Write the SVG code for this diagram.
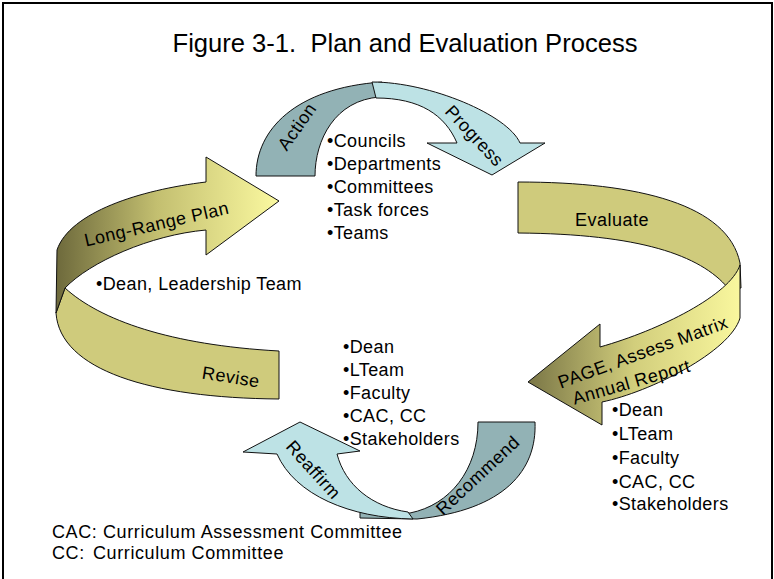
<svg xmlns="http://www.w3.org/2000/svg" width="774" height="579" viewBox="0 0 774 579">
  <defs>
    <linearGradient id="gradPlan" gradientUnits="userSpaceOnUse" x1="57" y1="0" x2="279" y2="0">
      <stop offset="0" stop-color="#6e6a3c"/>
      <stop offset="0.45" stop-color="#c3bf70"/>
      <stop offset="1" stop-color="#fbf9a0"/>
    </linearGradient>
    <linearGradient id="gradPage" gradientUnits="userSpaceOnUse" x1="528" y1="0" x2="740" y2="0">
      <stop offset="0" stop-color="#7a7646"/>
      <stop offset="0.5" stop-color="#d2ce7c"/>
      <stop offset="1" stop-color="#f9f79e"/>
    </linearGradient>
    <style>
      .band { stroke: #111; stroke-width: 1; stroke-linejoin: round; }
      .olive { fill: #cfcb7c; }
      .teal-dark { fill: #92b2b5; }
      .teal-light { fill: #bde2e5; }
      text { font-family: "Liberation Sans", Arial, sans-serif; fill: #000; }
      .lbl { font-size: 18px; text-anchor: middle; letter-spacing: 0.5px; }
      .list { font-size: 18px; letter-spacing: 0.4px; }
      .note { font-size: 18px; letter-spacing: 0.6px; }
    </style>
  </defs>

  <rect x="0" y="0" width="774" height="579" fill="#fff"/>
  <rect x="3" y="3" width="769" height="600" fill="none" stroke="#000" stroke-width="2"/>

  <text x="405" y="52" font-size="25" text-anchor="middle" textLength="465" lengthAdjust="spacingAndGlyphs" xml:space="preserve">Figure 3-1.  Plan and Evaluation Process</text>

  <g id="connectors">
    <!-- top arch: Action band with Progress arrow -->
    <g id="action">
      <path class="band teal-dark" d="M256,176 C256,130 295,88 382,82 L380,97 C335,100 315,140 315,176 Z"/>
      <text class="lbl" transform="translate(302,130) rotate(-55)">Action</text>
    </g>
    <g id="progress">
      <path class="band teal-light" d="M372,82 C430,82 508,115 520,143 L545,143 L492,175 L427,143 L457,143 C445,115 420,98 376,98 Z"/>
      <text class="lbl" transform="translate(470,140) rotate(47)">Progress</text>
    </g>

    <!-- right ribbon: Evaluate band turning into the PAGE arrow -->
    <g id="evaluate">
      <path class="band olive" d="M518,182 C640,182 728,205 740,263 L741,288 L728,288 C700,255 640,234 518,233 Z"/>
      <text class="lbl" x="612" y="226">Evaluate</text>
    </g>
    <g id="page-report">
      <path class="band" fill="url(#gradPage)" d="M602,402 C650,392 730,352 740,318 L740,265 C730,295 660,330 600,347 L600,324 L528,382 L602,425 Z"/>
      <text class="lbl" transform="translate(645,358) rotate(-20)" letter-spacing="1">PAGE, Assess Matrix</text>
      <text class="lbl" transform="translate(633,388) rotate(-16)">Annual Report</text>
    </g>

    <!-- bottom U: Recommend band with Reaffirm arrow -->
    <g id="recommend">
      <path class="band teal-dark" d="M478,422 L535,422 C537,470 505,510 417,519 L360,518 L360,512 L410,513 C450,505 478,470 478,422 Z"/>
      <text class="lbl" transform="translate(482,480) rotate(-43)">Recommend</text>
    </g>
    <g id="reaffirm">
      <path class="band teal-light" d="M243,452 L300,422 L360,451 L337,454 C345,485 372,507 408,512 L413,519 C350,518 295,495 277,454 Z"/>
      <text class="lbl" transform="translate(309,474) rotate(48)">Reaffirm</text>
    </g>

    <!-- left ribbon: Revise band turning into the Long-Range Plan arrow -->
    <g id="revise">
      <path class="band olive" d="M65,288 C100,320 170,345 279,351 L279,399 C150,398 60,370 56,313 Z"/>
      <text class="lbl" transform="translate(230,383) rotate(9)">Revise</text>
    </g>
    <g id="long-range-plan">
      <path class="band" fill="url(#gradPlan)" d="M206,182 L206,157 L279,201 L206,255 L206,230 C150,235 90,262 65,288 L56,313 L57,250 C70,212 140,190 206,182 Z"/>
      <text class="lbl" transform="translate(158,230) rotate(-13)">Long-Range Plan</text>
    </g>
  </g>

  <g id="top-list">
    <text class="list" x="327" y="147">•Councils</text>
    <text class="list" x="327" y="170">•Departments</text>
    <text class="list" x="327" y="193">•Committees</text>
    <text class="list" x="327" y="216">•Task forces</text>
    <text class="list" x="327" y="239">•Teams</text>
  </g>

  <g id="plan-list">
    <text class="list" x="96" y="290">•Dean, Leadership Team</text>
  </g>

  <g id="middle-list">
    <text class="list" x="343" y="353">•Dean</text>
    <text class="list" x="343" y="376">•LTeam</text>
    <text class="list" x="343" y="399">•Faculty</text>
    <text class="list" x="343" y="422">•CAC, CC</text>
    <text class="list" x="343" y="445">•Stakeholders</text>
  </g>

  <g id="right-list">
    <text class="list" x="612" y="416">•Dean</text>
    <text class="list" x="612" y="440">•LTeam</text>
    <text class="list" x="612" y="464">•Faculty</text>
    <text class="list" x="612" y="488">•CAC, CC</text>
    <text class="list" x="612" y="510">•Stakeholders</text>
  </g>

  <g id="legend">
    <text class="note" x="52" y="538">CAC: Curriculum Assessment Committee</text>
    <text class="note" x="52" y="559">CC:</text>
    <text class="note" x="93" y="559">Curriculum Committee</text>
  </g>
</svg>
